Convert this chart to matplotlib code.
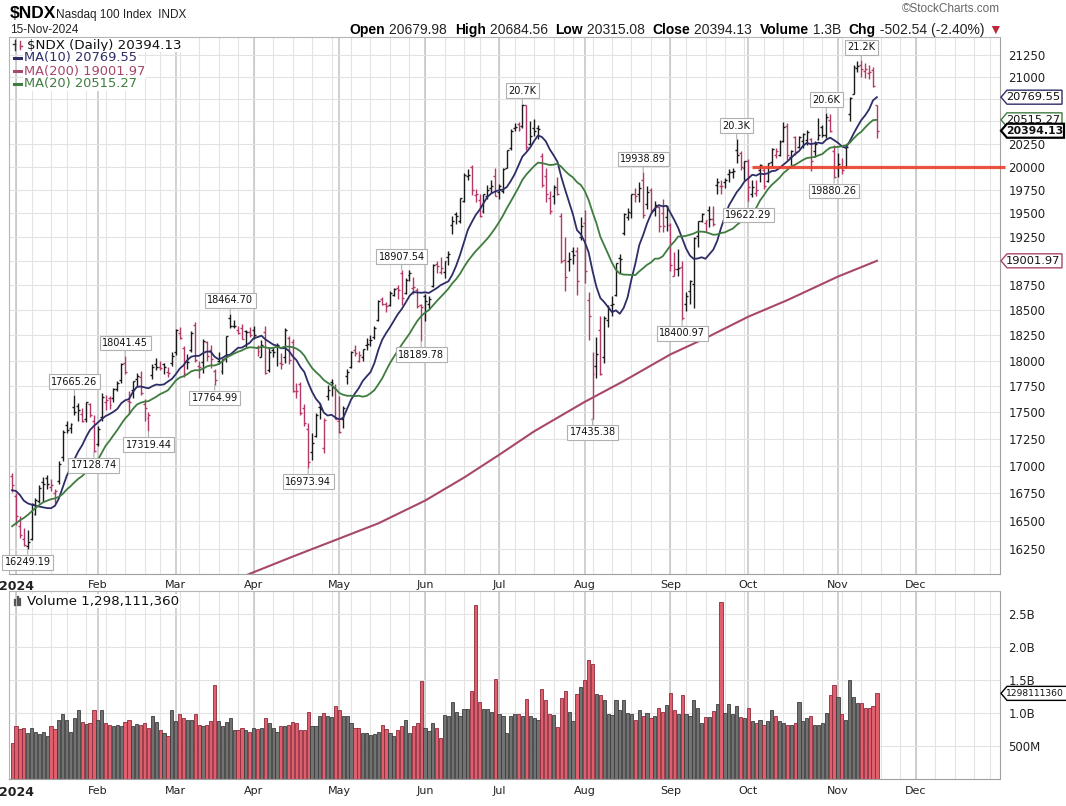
import numpy as np
import pandas as pd
import matplotlib
matplotlib.use("Agg")
import matplotlib.pyplot as plt
from matplotlib.lines import Line2D
from matplotlib.patches import Polygon
from matplotlib.transforms import IdentityTransform
from matplotlib.ticker import FixedLocator, NullLocator

plt.rcParams['font.family'] = 'DejaVu Sans'
NARROW = ['Liberation Sans Narrow', 'Liberation Sans', 'DejaVu Sans']

W, H, DPI = 1066, 806, 100

# market holidays, so the bar positions follow the trading calendar
holidays = ['2024-01-01', '2024-01-15', '2024-02-19', '2024-03-29', '2024-05-27',
            '2024-06-19', '2024-07-04', '2024-09-02', '2024-11-28', '2024-12-25']
first_day = '2023-12-29'

# Dec 2023 closes before the first bar (only used to warm up MA10 / MA20)
prior_closes = [15998, 15840, 15868, 15776, 16000, 16085, 16221, 16343, 16547, 16553,
                16623, 16730, 16793, 16551, 16770, 16777, 16878, 16906, 16898]

# daily OHLC, 29-Dec-2023 .. 15-Nov-2024 (one row per month)
opens = [16905,
         16720, 16455, 16335, 16278, 16340, 16560, 16680, 16850, 16885, 16800, 16745, 16862, 17078, 17384, 17355, 17552, 17563, 17487, 17432, 17575, 17417,
         17205, 17451, 17600, 17640, 17641, 17726, 17809, 17971, 17610, 17709, 17818, 17840, 17580, 17449, 17856, 17963, 17940, 17962, 17891, 17979,
         18085, 18270, 18125, 18000, 18103, 18350, 17950, 17986, 18177, 18107, 17898, 18000, 17900, 18021, 18425, 18343, 18304, 18320, 18287, 18279,
         18300, 18134, 18035, 18279, 17905, 18100, 18140, 17979, 18038, 18220, 18180, 17700, 17772, 17540, 17345, 17130, 17280, 17550, 17160, 17660, 17794, 17730,
         17420, 17438, 17850, 17940, 18100, 18000, 18030, 18150, 18200, 18230, 18400, 18610, 18566, 18550, 18654, 18725, 18879, 18669, 18853, 18722, 18700, 18555,
         18640, 18560, 18745, 18974, 18888, 18890, 19040, 19374, 19487, 19419, 19633, 19900, 19995, 19690, 19640, 19520, 19680, 19770, 19900,
         19730, 19740, 19990, 20200, 20430, 20470, 20450, 20680, 20250, 20430, 20420, 20120, 19900, 19660, 19680, 19760, 19470, 19013, 19000, 19100, 19100, 19250,
         19400, 18600, 17440, 17950, 18300, 18030, 18400, 18550, 18650, 19030, 19290, 19460, 19500, 19700, 19710, 19850, 19600, 19750, 19530, 19570, 19500, 19460,
         19380, 18850, 18920, 18940, 18560, 18690, 18760, 19260, 19420, 19400, 19530, 19440, 19800, 19790, 19830, 19920, 19940, 20180, 20150, 19980,
         20060, 19700, 19720, 19960, 19960, 19840, 20050, 20130, 20130, 20280, 20450, 20110, 20330, 20220, 20280, 20290, 20300, 20170, 20300, 20440, 20350, 20510, 20170,
         19980, 20000, 20000, 20580, 20800, 21100, 21140, 21070, 21040, 21080, 20679.98]
highs = [16935,
         16750, 16545, 16430, 16415, 16660, 16705, 16822, 16900, 16910, 16880, 16785, 17040, 17329, 17420, 17398, 17665.26, 17589, 17538, 17598, 17586, 17470,
         17371, 17681, 17665, 17660, 17737, 17801, 17974, 18041.45, 17700, 17798, 17875, 17895, 17627, 17502, 17967, 18020, 18000, 17980, 17932, 18080,
         18310, 18327, 18145, 18065, 18295, 18380, 18000, 18210, 18188, 18149, 17918, 18086, 18019, 18241, 18464.70, 18396, 18339, 18364, 18297, 18329,
         18340, 18150, 18200, 18340, 18130, 18130, 18171, 18070, 18324, 18240, 18212, 17780, 17790, 17580, 17400, 17300, 17490, 17590, 17444, 17760, 17820, 17770,
         17660, 17560, 17920, 18090, 18155, 18098, 18115, 18226, 18250, 18340, 18597, 18630, 18577, 18697, 18724, 18749, 18907.54, 18825, 18906, 18835, 18725, 18559,
         18660, 18640, 18967, 18999, 19046, 19005, 19100, 19466, 19517, 19666, 19930, 19979, 20022, 19760, 19700, 19710, 19800, 19860, 19980,
         19810, 19980, 20186, 20408, 20475, 20495, 20690.97, 20680, 20500, 20530, 20460, 20150, 19980, 19733, 19800, 19890, 19500, 19250, 19090, 19150, 19150, 19460,
         19530, 18680, 18080, 18230, 18440, 18440, 18550, 18640, 18980, 19070, 19500, 19560, 19710, 19770, 19830, 19938.89, 19790, 19770, 19630, 19580, 19650, 19580,
         19400, 19090, 19120, 19000, 18680, 18810, 19250, 19420, 19500, 19430, 19580, 19580, 19880, 19850, 19880, 19970, 19990, 20300, 20170, 20065,
         20080, 19850, 19850, 20030, 19990, 20040, 20200, 20200, 20290, 20490, 20480, 20180, 20340, 20340, 20370, 20400, 20310, 20280, 20540, 20460, 20590, 20580, 20240,
         20150, 20090, 20230, 20770, 21140, 21180, 21188, 21160, 21140, 21110, 20684.56]
lows = [16760,
        16460, 16345, 16275, 16249.19, 16330, 16550, 16655, 16670, 16785, 16765, 16660, 16828, 17047, 17302, 17301, 17472, 17422, 17408, 17406, 17452, 17128.74,
        17183, 17422, 17519, 17528, 17601, 17703, 17783, 17866, 17480, 17638, 17752, 17668, 17420, 17319.44, 17818, 17907, 17907, 17871, 17839, 17944,
        18058, 18213, 17843, 17916, 18080, 17983, 17834, 17880, 18000, 17923, 17764.99, 17970, 17868, 17985, 18317, 18321, 18260, 18210, 18133, 18229,
        18215, 18040, 18030, 17873, 17890, 18037, 17950, 17920, 17975, 17967, 17690, 17640, 17470, 17372, 16973.94, 17050, 17271, 17434, 17120, 17620, 17660, 17440,
        17300, 17350, 17770, 17925, 18047, 17990, 18000, 18100, 18140, 18210, 18390, 18549, 18480, 18540, 18640, 18616, 18553, 18659, 18792, 18660, 18519, 18189.78,
        18393, 18510, 18732, 18873, 18866, 18830, 18960, 19281, 19385, 19400, 19618, 19855, 19697, 19620, 19465, 19500, 19647, 19720, 19680,
        19650, 19720, 19985, 20180, 20390, 20390, 20420, 20180, 20240, 20340, 20300, 19780, 19620, 19490, 19600, 19690, 18980, 18693, 18900, 18970, 18650, 19220,
        18770, 18200, 17435.38, 17830, 17860, 17980, 18330, 18440, 18640, 18880, 19270, 19430, 19450, 19620, 19620, 19450, 19540, 19500, 19470, 19300, 19300, 19310,
        18900, 18850, 18850, 18400.97, 18490, 18560, 18520, 19150, 19410, 19300, 19350, 19360, 19700, 19700, 19770, 19830, 19880, 20040, 19960, 19860,
        19622.29, 19670, 19680, 19830, 19760, 19830, 20010, 20090, 20120, 20270, 20070, 20020, 20130, 20200, 20200, 20240, 19950, 20100, 20290, 20320, 20310, 20380, 19880.26,
        19890, 19920, 19990, 20500, 20800, 21050, 21000, 20990, 20970, 20880, 20315.08]
closes = [16826,
          16544, 16368, 16282, 16306, 16650, 16688, 16792, 16833, 16833, 16820, 16765, 17020, 17314, 17329, 17394, 17499, 17518, 17421, 17596, 17476, 17137,
          17344, 17642, 17622, 17573, 17724, 17783, 17962, 17883, 17601, 17797, 17845, 17686, 17538, 17479, 17937, 17937, 17923, 17939, 17874, 18043,
          18302, 18226, 17874, 17986, 18276, 18006, 17934, 18196, 18040, 18016, 17808, 17985, 18013, 18240, 18339, 18340, 18271, 18210, 18281, 18254,
          18256, 18098, 18157, 17877, 18082, 18084, 18149, 17962, 18303, 18003, 17707, 17706, 17493, 17395, 17037, 17211, 17471, 17527, 17430, 17718, 17782, 17441,
          17314, 17543, 17890, 18085, 18069, 18050, 18113, 18161, 18198, 18322, 18593, 18558, 18546, 18671, 18715, 18706, 18621, 18808, 18875, 18737, 18538, 18536,
          18587, 18610, 18959, 18947, 18925, 19002, 19076, 19414, 19466, 19659, 19904, 19908, 19753, 19701, 19473, 19701, 19751, 19789, 19683,
          19794, 19970, 20186, 20392, 20439, 20418, 20676, 20211, 20331, 20386, 20412, 19800, 19707, 19523, 19778, 19704, 18997, 18831, 19023, 19060, 18797, 19362,
          18902, 18440, 17867, 18065, 17868, 18421, 18513, 18559, 18980, 19018, 19494, 19509, 19709, 19687, 19772, 19478, 19721, 19535, 19590, 19367, 19362, 19575,
          18959, 18921, 18931, 18422, 18647, 18790, 19238, 19417, 19487, 19424, 19436, 19388, 19838, 19794, 19852, 19945, 19951, 20122, 20000, 20061,
          19777, 19780, 19745, 20013, 19791, 20035, 20193, 20168, 20272, 20440, 20129, 20173, 20163, 20324, 20361, 20375, 20059.9, 20246, 20352, 20352, 20550, 20391, 19890,
          20033, 19965, 20210, 20758, 21111, 21130, 21090, 21085, 21055.7, 20896.67, 20394.13]

# volume in billions of shares
volumes_b = [0.55,
             0.81, 0.76, 0.78, 0.70, 0.77, 0.72, 0.68, 0.71, 0.65, 0.81, 0.76, 0.89, 0.98, 0.89, 0.72, 0.93, 1.05, 0.86, 0.83, 0.85, 1.05,
             0.90, 1.05, 0.85, 0.82, 0.80, 0.82, 0.80, 0.86, 0.90, 0.80, 0.84, 0.82, 0.85, 0.78, 0.95, 0.86, 0.75, 0.70, 0.65, 1.05,
             0.88, 0.98, 0.93, 0.90, 0.90, 0.98, 0.82, 0.80, 0.82, 0.88, 1.42, 0.88, 0.80, 0.86, 0.93, 0.75, 0.74, 0.78, 0.74, 0.72,
             0.78, 0.76, 0.78, 0.93, 0.85, 0.77, 0.72, 0.80, 0.80, 0.82, 0.86, 0.85, 0.74, 0.74, 1.02, 0.80, 0.80, 0.96, 1.00, 0.96, 0.94, 1.10,
             1.05, 0.96, 0.96, 0.85, 0.78, 0.78, 0.70, 0.70, 0.66, 0.68, 0.72, 0.82, 0.76, 0.70, 0.65, 0.75, 0.80, 0.90, 0.70, 0.80, 0.85, 1.48,
             0.77, 0.73, 0.85, 0.78, 0.62, 0.97, 0.95, 1.16, 1.02, 0.95, 1.06, 1.06, 1.34, 2.64, 1.16, 1.06, 1.06, 1.02, 1.52,
             0.98, 0.95, 0.70, 0.95, 0.98, 0.98, 0.95, 1.22, 0.95, 0.92, 0.90, 1.37, 1.20, 0.98, 0.97, 0.79, 1.23, 1.33, 1.02, 0.88, 1.29, 1.39,
             1.50, 1.81, 1.74, 1.29, 1.28, 1.20, 0.99, 0.97, 1.20, 1.05, 1.20, 1.00, 0.98, 0.90, 1.05, 0.95, 1.00, 0.92, 0.95, 1.08, 1.02, 1.12,
             1.30, 1.05, 0.98, 1.28, 0.98, 0.95, 1.20, 1.08, 0.85, 0.94, 0.94, 1.03, 1.13, 2.69, 1.00, 1.13, 0.98, 1.10, 0.94, 0.92,
             1.07, 0.88, 0.85, 0.90, 0.82, 0.88, 1.05, 0.95, 0.88, 0.85, 0.82, 0.82, 0.85, 1.17, 0.88, 0.92, 0.95, 0.82, 0.82, 0.85, 1.00, 1.27, 1.42,
             1.25, 0.98, 0.90, 1.50, 1.25, 1.15, 1.15, 1.08, 1.08, 1.10, 1.29811136]

# 200-day moving average
ma200_dates = ['2024-03-15', '2024-03-28', '2024-04-15', '2024-05-01', '2024-05-15', '2024-06-03',
               '2024-06-17', '2024-07-01', '2024-07-15', '2024-08-01', '2024-08-15', '2024-09-03',
               '2024-09-16', '2024-10-01', '2024-10-15', '2024-11-01', '2024-11-15']
ma200_vals = [15900, 16030, 16180, 16340, 16475, 16680, 16890, 17100, 17320, 17600, 17800, 18060,
              18220, 18434, 18600, 18840, 19001.97]

# labelled swing highs / lows
pivot_dates = ['2024-01-05', '2024-01-24', '2024-01-31', '2024-02-12', '2024-02-21', '2024-03-15',
               '2024-03-21', '2024-04-19', '2024-05-23', '2024-05-31', '2024-07-10', '2024-08-05',
               '2024-08-22', '2024-09-06', '2024-09-26', '2024-10-01', '2024-10-29', '2024-10-31',
               '2024-11-11']
pivot_kinds = ['low', 'high', 'low', 'high', 'low', 'low', 'high', 'low', 'high', 'low', 'high', 'low',
               'high', 'low', 'high', 'low', 'high', 'low', 'high']

# hand drawn support line
support_level = 20000
support_from = '2024-10-02'

UP, DOWN = '#1a1a1a', '#b5386a'
C_MA10, C_MA20, C_MA200 = '#2d2d68', '#3f7c3f', '#a8476c'

# ---- derived series
cal = pd.offsets.CustomBusinessDay(holidays=holidays)
days = pd.DatetimeIndex([pd.Timestamp(first_day)]).append(
    pd.date_range('2024-01-02', '2024-12-31', freq=cal))
day_pos = {d.strftime('%Y-%m-%d'): i for i, d in enumerate(days)}

opens, highs, lows, closes = map(np.array, (opens, highs, lows, closes))
volumes = np.array(volumes_b) * 1e9
n = len(closes)
x = np.arange(n)
prev_close = np.r_[prior_closes[-1], closes[:-1]]
up = closes >= prev_close
bar_col = np.where(up, UP, DOWN)

s = pd.Series(np.r_[prior_closes, closes])
ma10 = s.rolling(10).mean().to_numpy()[len(prior_closes):]
ma20 = s.rolling(20).mean().to_numpy()[len(prior_closes):]
ma200_x = [day_pos[d] for d in ma200_dates]

fig = plt.figure(figsize=(W / DPI, H / DPI), dpi=DPI)
fig.patch.set_facecolor('white')


def px_axes(l, t, r, b):
    return fig.add_axes([l / W, 1 - b / H, (r - l) / W, (b - t) / H])


def ftext(xp, yp, s, **kw):
    return fig.text(xp / W, 1 - yp / H, s, **kw)


def px_line(xs, ys, **kw):
    fig.add_artist(Line2D(xs, [H - y for y in ys], transform=IdentityTransform(), **kw))


ax = px_axes(9, 37, 1000, 574)
axv = px_axes(9, 591, 1000, 779)
xmin, xmax = -0.8, 253.6

week_starts = [i for i in range(1, len(days)) if days[i].isocalendar()[1] != days[i - 1].isocalendar()[1]]
month_starts = [i for i in range(1, len(days)) if days[i].month != days[i - 1].month]
month_names = [days[i].strftime('%b') if days[i].month != 1 else '2024' for i in month_starts]

for a in (ax, axv):
    a.set_xlim(xmin, xmax)
    a.set_xticks([])
    for i in week_starts:
        a.axvline(i, color='#e3e3e3', lw=0.8, zorder=0)
    for i in month_starts:
        a.axvline(i, color='#c4c4c4', lw=1.1, zorder=0)
    for side in ('top', 'left'):
        a.spines[side].set_color('#b5b5b5')
    for side in ('right', 'bottom'):
        a.spines[side].set_color('#a0a0a0')
        a.spines[side].set_linestyle((0, (1, 1)))
    a.yaxis.tick_right()
    a.tick_params(axis='y', length=0, pad=6, labelsize=8.5, labelcolor='#222222')
    tr = a.get_xaxis_transform()
    off = -0.012 if a is ax else -0.035
    for i, name in zip(month_starts, month_names):
        a.text(i, off, name, transform=tr, ha='center', va='top',
               fontsize=9 if name == '2024' else 8,
               fontweight='bold' if name == '2024' else 'normal', color='#222222')

# ---- price panel
ax.set_yscale('log')
ax.set_ylim(16028, 21460)
price_ticks = list(range(16250, 21251, 250))
ax.yaxis.set_major_locator(FixedLocator(price_ticks))
ax.yaxis.set_minor_locator(NullLocator())
for t in price_ticks:
    ax.axhline(t, color='#e3e3e3', lw=0.8, zorder=0)

ax.vlines(x, lows, highs, colors=bar_col, lw=1.0, zorder=2)
ax.hlines(opens, x - 0.5, x, colors=bar_col, lw=1.0, zorder=2)
ax.hlines(closes, x, x + 0.5, colors=bar_col, lw=1.0, zorder=2)

ax.plot(x, ma10, color=C_MA10, lw=1.3, zorder=3)
ax.plot(x, ma20, color=C_MA20, lw=1.3, zorder=3)
ax.plot(ma200_x, ma200_vals, color=C_MA200, lw=1.5, zorder=3)

ax.hlines(support_level, day_pos[support_from], xmax + 1.3, color='#e8412b', lw=2.3,
          alpha=0.9, zorder=4, clip_on=False)

for d, k in zip(pivot_dates, pivot_kinds):
    i = day_pos[d]
    v = highs[i] if k == 'high' else lows[i]
    lab = f'{v / 1000:.1f}K' if v >= 20000 else f'{v:.2f}'
    ax.annotate(lab, xy=(i, v), xytext=(0, 6 if k == 'high' else -6), textcoords='offset points',
                ha='center', va='bottom' if k == 'high' else 'top', fontsize=7, color='#111111',
                bbox=dict(boxstyle='square,pad=0.25', fc='white', ec='#b0b0b0', lw=0.8),
                arrowprops=dict(arrowstyle='-', color='#b0b0b0', lw=0.8, shrinkA=0, shrinkB=0),
                zorder=6, annotation_clip=False)

# right side value tags; plain tick labels hidden under them
tag_vals = [ma10[-1], ma20[-1], closes[-1], ma200_vals[-1]]


def ypx(a, v):
    return a.transData.transform((0, v))[1]


ax.set_yticklabels(['' if min(abs(ypx(ax, t) - ypx(ax, v)) for v in tag_vals) < 9 else str(t)
                    for t in price_ticks])


def side_tag(a, val, txt, ec, bold=False, lw=1.0, right=1062, fs=8.2):
    y = ypx(a, val)
    x0 = a.transAxes.transform((1, 0))[0] + 1
    h = 7
    pts = [(x0, y), (x0 + 6, y + h), (right, y + h), (right, y - h), (x0 + 6, y - h)]
    fig.add_artist(Polygon(pts, closed=True, transform=IdentityTransform(), fc='white',
                           ec=ec, lw=lw, zorder=20))
    fig.text((x0 + 5) / W, y / H, txt, fontsize=fs, fontweight='bold' if bold else 'normal',
             va='center', ha='left', color='#111111', zorder=21)


side_tag(ax, ma10[-1], f'{ma10[-1]:.2f}', C_MA10)
side_tag(ax, ma20[-1], f'{ma20[-1]:.2f}', C_MA20)
side_tag(ax, closes[-1], f'{closes[-1]:.2f}', '#000000', bold=True, lw=1.6, right=1064, fs=7.8)
side_tag(ax, ma200_vals[-1], f'{ma200_vals[-1]:.2f}', C_MA200)

# ---- volume panel
axv.set_ylim(0, 2.85e9)
vol_ticks = [0.5e9, 1.0e9, 1.5e9, 2.0e9, 2.5e9]
axv.yaxis.set_major_locator(FixedLocator(vol_ticks))
axv.set_yticklabels(['500M', '1.0B', '1.5B', '2.0B', '2.5B'])
for t in vol_ticks:
    axv.axhline(t, color='#e3e3e3', lw=0.8, zorder=0)
axv.bar(x, volumes, width=0.82, color=np.where(up, '#727272', '#df5f6c'),
        edgecolor=np.where(up, '#3c3c3c', '#8c2a3c'), lw=0.6, zorder=2)
side_tag(axv, volumes[-1], f'{int(round(volumes[-1]))}', '#000000', right=1090, fs=6.6)

# ---- legends inside panels
ftext(27, 45, f'$NDX (Daily) {closes[-1]:.2f}', fontsize=9.6, va='center', color='#111111',
      bbox=dict(fc='white', ec='none', pad=0.5))
px_line([15, 15], [40, 50], color='#333333', lw=1.0)
px_line([13, 15], [44, 44], color='#333333', lw=1.0)
px_line([20, 20], [41, 49], color=DOWN, lw=1.0)
px_line([20, 22], [46, 46], color=DOWN, lw=1.0)
for k, (lab, c) in enumerate([(f'MA(10) {ma10[-1]:.2f}', C_MA10),
                              (f'MA(200) {ma200_vals[-1]:.2f}', C_MA200),
                              (f'MA(20) {ma20[-1]:.2f}', C_MA20)]):
    yy = 58 + 13 * k
    px_line([14, 23], [yy, yy], color=c, lw=2.2)
    ftext(24, yy, lab, fontsize=9.4, va='center', color=c, bbox=dict(fc='white', ec='none', pad=0.5))

for k, hh in enumerate([5, 8, 6]):
    px_line([15 + 2.5 * k, 15 + 2.5 * k], [605, 605 - hh], color='#555555', lw=1.6)
ftext(27, 601, f'Volume {int(round(volumes[-1])):,}', fontsize=9.6, va='center', color='#111111',
      bbox=dict(fc='white', ec='none', pad=0.5))

# ---- header
ftext(10, 14, '$NDX', fontsize=12.5, fontweight='bold', va='center', family=NARROW)
ftext(56, 15, 'Nasdaq 100 Index  INDX', fontsize=8.5, va='center', family=NARROW, color='#222222')
ftext(10, 30, days[n - 1].strftime('%d-%b-%Y'), fontsize=8.5, va='center', family=NARROW, color='#222222')
ftext(1000, 9, '\u00a9StockCharts.com', fontsize=8.5, va='center', ha='right', family=NARROW, color='#666666')

chg = closes[-1] - closes[-2]
vol_short = f'{volumes[-1] / 1e9:.1f}B'
pieces = [('Open', 'bold', '#000'), (f' {opens[-1]:.2f}  ', 'normal', '#222'),
          ('High', 'bold', '#000'), (f' {highs[-1]:.2f}  ', 'normal', '#222'),
          ('Low', 'bold', '#000'), (f' {lows[-1]:.2f}  ', 'normal', '#222'),
          ('Close', 'bold', '#000'), (f' {closes[-1]:.2f}  ', 'normal', '#222'),
          ('Volume', 'bold', '#000'), (f' {vol_short}  ', 'normal', '#222'),
          ('Chg', 'bold', '#000'), (f' {chg:.2f} ({chg / closes[-2] * 100:.2f}%) ', 'normal', '#222'),
          ('\u25bc', 'normal', '#c0283a')]
renderer = fig.canvas.get_renderer()
arts = []
for s_, w_, c_ in pieces:
    t = ftext(0, 30, s_, fontsize=10, fontweight=w_, color=c_, va='center', family=NARROW)
    arts.append(t)
widths = [t.get_window_extent(renderer=renderer).width for t in arts]
xp = 1002 - sum(widths)
for t, w_ in zip(arts, widths):
    t.set_x(xp / W)
    xp += w_

fig.savefig('out.png', dpi=DPI, facecolor='white')
